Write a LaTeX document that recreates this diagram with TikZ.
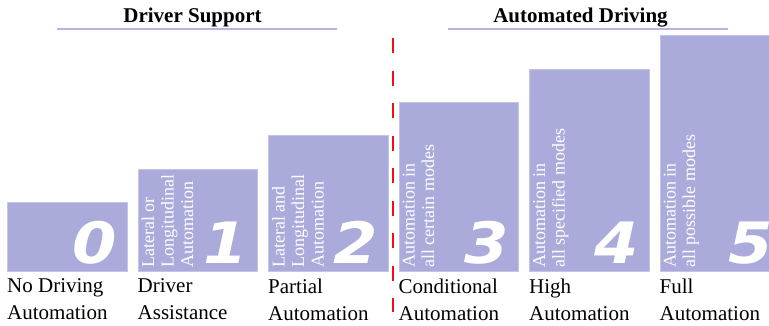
\documentclass[tikz,border=0pt]{standalone}
\usepackage{fontspec}
\setmainfont{Liberation Serif}
\newfontfamily\digitfont{DejaVu Sans}[FakeStretch=1.12]
\definecolor{boxfill}{RGB}{170,170,219}
\definecolor{boxedge}{RGB}{196,196,232}
\definecolor{rulecol}{RGB}{182,182,222}
\definecolor{sepred}{RGB}{240,16,16}
\tikzset{
  lvlbox/.style={fill=boxfill, draw=boxedge, line width=0.8pt, minimum width=119.5pt, inner sep=0pt, anchor=south west},
  digit/.style={text=white, inner sep=0pt, anchor=base east, font=\digitfont\bfseries\itshape\fontsize{57}{57}\selectfont},
  desc/.style={text=white, rotate=90, anchor=north west, align=left, inner sep=4pt, font=\fontsize{18}{19.5}\selectfont},
  lvllabel/.style={anchor=north west, align=left, inner sep=0pt, font=\fontsize{21}{27}\selectfont},
  grouptitle/.style={anchor=base, inner sep=0pt, font=\bfseries\fontsize{21}{25}\selectfont},
  grouprule/.style={draw=rulecol, line width=2pt},
  sepline/.style={draw=sepred, line width=2pt, dash pattern=on 15pt off 17.5pt},
}
\begin{document}
\begin{tikzpicture}[x=1pt,y=-1pt]
\useasboundingbox (0,0) rectangle (769,325);
\clip (0,0) rectangle (769,325);
\fill[white] (0,0) rectangle (769,325);

% boxes
\node[lvlbox, minimum height=69pt]  (b0) at (7,272) {};
\node[lvlbox, minimum height=102.4pt] (b1) at (137.5,272) {};
\node[lvlbox, minimum height=135.8pt] (b2) at (268,272) {};
\node[lvlbox, minimum height=169.2pt] (b3) at (398.5,272) {};
\node[lvlbox, minimum height=202.6pt] (b4) at (529,272) {};
\node[lvlbox, minimum height=236pt, minimum width=123pt]  (b5) at (659.5,272) {};

% digits
\node[digit] (d0) at ([xshift=-10pt,yshift=9pt]b0.south east) {0};
\node[digit] (d1) at ([xshift=-10pt,yshift=9pt]b1.south east) {1};
\node[digit] (d2) at ([xshift=-10pt,yshift=9pt]b2.south east) {2};
\node[digit] (d3) at ([xshift=-10pt,yshift=9pt]b3.south east) {3};
\node[digit] (d4) at ([xshift=-10pt,yshift=9pt]b4.south east) {4};
\node[digit] (d5) at ([xshift=-10pt,yshift=9pt]b5.south east) {5};

% rotated descriptions
\node[desc] (t1) at (b1.south west) {Lateral or\\Longitudinal\\Automation};
\node[desc] (t2) at (b2.south west) {Lateral and\\Longitudinal\\Automation};
\node[desc] (t3) at (b3.south west) {Automation in\\all certain modes};
\node[desc] (t4) at (b4.south west) {Automation in\\all specified modes};
\node[desc] (t5) at (b5.south west) {Automation in\\all possible modes};

% labels below
\node[lvllabel] (l0) at ([yshift=-6.5pt]b0.south west) {No Driving\\Automation};
\node[lvllabel] (l1) at ([yshift=-6.5pt]b1.south west) {Driver\\Assistance};
\node[lvllabel] (l2) at ([yshift=-6.5pt]b2.south west) {Partial\\Automation};
\node[lvllabel] (l3) at ([yshift=-6.5pt]b3.south west) {Conditional\\Automation};
\node[lvllabel] (l4) at ([yshift=-6.5pt]b4.south west) {High\\Automation};
\node[lvllabel] (l5) at ([yshift=-6.5pt]b5.south west) {Full\\Automation};

% group titles
\node[grouptitle] (g1) at (192.5,22) {Driver Support};
\node[grouptitle] (g2) at (580.5,22) {Automated Driving};
\coordinate (r1a) at (57,29);  \coordinate (r1b) at (337,29);
\coordinate (r2a) at (448,29); \coordinate (r2b) at (728,29);
\draw[grouprule] (r1a) -- (r1b);
\draw[grouprule] (r2a) -- (r2b);

% separator
\coordinate (s1) at (393,38);
\coordinate (s2) at (393,312);
\draw[sepline] (s1) -- (s2);
\end{tikzpicture}
\end{document}
